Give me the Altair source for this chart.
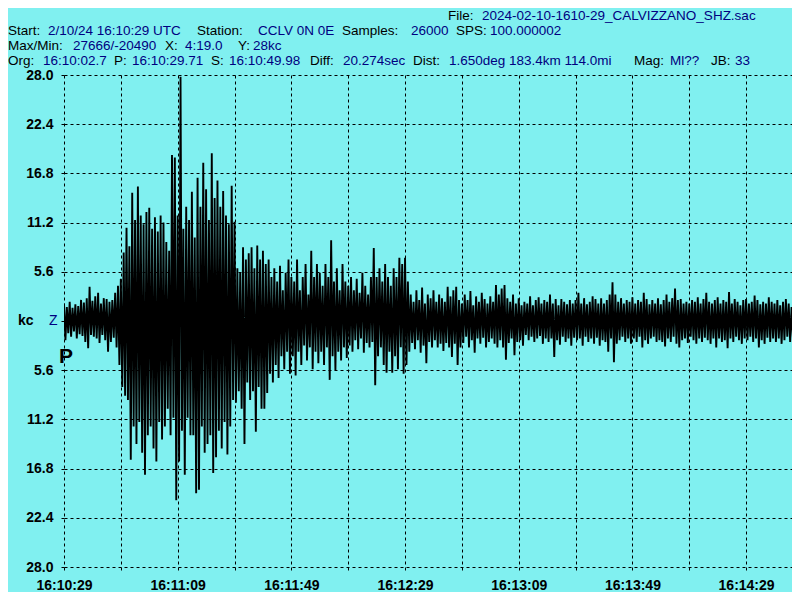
import altair as alt
import pandas as pd

# ---------------- data ----------------
# one peak and one trough per second, starting at 16:10:29 (t = 0 s)
peaks = [
    2.0, 1.6, 2.2, 1.5, 1.9, 1.7, 2.4, 2.1, 2.6, 3.9,
    2.3, 2.8, 3.2, 2.0, 2.6, 2.5, 2.2, 2.4, 3.2, 4.0,
    4.8, 7.8, 10.6, 8.5, 14.6, 11.5, 15.3, 12.0, 11.0, 12.4,
    12.9, 10.5, 11.8, 10.2, 12.0, 11.2, 9.0, 8.0, 18.9, 18.6,
    12.0, 27.8, 10.5, 13.0, 11.5, 14.7, 9.5, 16.3, 13.0, 18.0,
    15.0, 11.5, 19.1, 14.0, 16.0, 13.0, 14.8, 12.0, 11.0, 15.4,
    11.3, 6.0, 5.5, 8.4, 7.0, 7.7, 8.4, 6.0, 8.6, 7.0,
    8.0, 6.5, 7.0, 5.0, 6.0, 4.5, 6.3, 3.5, 5.5, 7.0,
    5.0, 4.5, 7.0, 3.5, 5.0, 6.5, 3.0, 8.0, 5.0, 6.5,
    5.5, 4.0, 6.5, 5.0, 9.2, 4.5, 6.0, 3.5, 6.5, 4.5,
    4.0, 5.0, 3.5, 4.8, 3.2, 5.5, 4.0, 3.0, 5.0, 8.3,
    5.0, 6.0, 4.5, 6.5, 5.0, 4.0, 6.0, 5.0, 7.2, 6.5,
    7.2, 4.5, 3.0, 2.2, 3.5, 2.4, 3.8, 2.0, 3.0, 2.6,
    3.5, 2.2, 3.0, 2.6, 2.2, 3.9, 2.8, 3.5, 3.9, 2.4,
    2.0, 3.0, 2.4, 3.4, 1.8, 2.8, 2.2, 3.2, 2.5, 2.0,
    2.8, 2.2, 4.1, 3.0, 3.7, 4.1, 2.6, 2.2, 3.0, 2.0,
    2.6, 1.8, 2.2, 2.0, 2.8, 1.8, 2.4, 2.7, 2.0, 2.4,
    2.2, 3.0, 2.0, 2.5, 1.8, 2.5, 2.2, 1.9, 2.4, 2.0,
    2.4, 3.2, 2.0, 2.6, 1.9, 2.2, 2.8, 2.5, 2.0, 2.6,
    2.0, 2.4, 3.0, 4.4, 3.0, 2.2, 2.6, 2.0, 2.4, 2.2,
    2.7, 2.0, 2.4, 2.2, 3.2, 2.5, 1.9, 2.4, 2.0, 2.6,
    1.9, 2.4, 3.0, 2.2, 2.6, 3.7, 2.4, 2.5, 2.0, 2.2,
    2.0, 2.4, 2.2, 2.7, 2.0, 2.5, 3.2, 2.2, 2.0, 2.4,
    2.7, 2.0, 2.4, 2.2, 3.3, 2.0, 2.5, 2.2, 1.8, 2.4,
    2.5, 2.0, 2.2, 2.9, 2.4, 1.9, 2.2, 2.0, 2.7, 2.2,
    2.0, 2.4, 1.8, 2.2, 2.5, 2.0, 1.6, 2.2, 1.4,
]
troughs = [
    -2.2, -1.4, -1.8, -1.2, -2.0, -1.5, -1.7, -2.4, -3.1, -1.6,
    -1.8, -2.0, -2.5, -1.6, -2.2, -3.5, -2.4, -1.9, -3.0, -5.0,
    -7.5, -8.5, -9.0, -15.8, -12.0, -14.0, -11.5, -15.0, -17.5, -13.0,
    -12.0, -14.5, -16.0, -11.5, -13.5, -12.0, -10.0, -13.0, -11.0, -20.4,
    -16.0, -12.5, -17.5, -11.0, -13.0, -13.0, -19.6, -19.2, -12.0, -15.0,
    -14.0, -13.0, -17.3, -15.5, -12.5, -14.5, -11.5, -15.2, -12.0, -9.0,
    -9.3, -8.0, -10.0, -14.0, -7.0, -9.0, -8.0, -12.6, -7.5, -10.0,
    -10.0, -8.2, -6.0, -7.0, -5.0, -6.5, -4.0, -5.5, -3.5, -6.0,
    -4.0, -6.2, -3.5, -5.0, -2.8, -4.5, -3.0, -5.5, -3.5, -4.8,
    -3.5, -5.0, -3.0, -6.7, -4.0, -5.6, -3.5, -4.5, -3.0, -4.2,
    -2.8, -3.5, -2.2, -3.2, -2.0, -3.6, -2.5, -3.0, -2.4, -7.3,
    -4.0, -3.0, -5.0, -5.9, -3.5, -5.9, -4.0, -5.5, -3.0, -6.0,
    -5.0, -3.5, -2.5, -3.2, -2.2, -3.6, -2.8, -4.8, -2.4, -3.0,
    -2.2, -3.0, -2.6, -3.4, -2.5, -3.0, -4.1, -2.6, -5.0, -3.0,
    -2.5, -1.8, -3.0, -2.2, -3.6, -2.0, -2.6, -1.9, -3.0, -2.4,
    -2.0, -2.6, -3.0, -2.2, -3.0, -4.4, -2.5, -2.0, -3.9, -2.4,
    -2.2, -2.8, -1.6, -2.2, -1.8, -2.4, -2.0, -1.7, -2.6, -2.0,
    -2.4, -2.0, -4.1, -2.2, -2.7, -1.8, -2.4, -2.0, -2.8, -1.9,
    -2.2, -2.0, -2.8, -1.8, -2.4, -2.0, -2.6, -1.9, -2.8, -2.2,
    -2.4, -3.5, -2.0, -4.7, -2.6, -2.2, -1.8, -2.4, -2.0, -2.6,
    -2.0, -2.4, -1.8, -3.0, -2.2, -2.6, -2.0, -1.8, -2.4, -2.2,
    -2.4, -2.9, -2.0, -2.4, -1.8, -2.6, -3.0, -2.2, -2.0, -2.5,
    -1.8, -2.2, -2.6, -2.0, -2.4, -1.9, -2.2, -2.6, -2.0, -3.0,
    -2.0, -2.4, -2.2, -3.1, -2.0, -2.4, -1.8, -2.2, -2.6, -2.0,
    -2.2, -1.8, -2.4, -2.0, -3.0, -2.2, -2.6, -1.9, -2.4, -2.0,
    -2.4, -2.0, -2.6, -2.2, -1.8, -2.4, -2.0, -1.8, -1.6,
]
p_arrival = 0.71                # P: 16:10:29.71
x_grid_seconds = list(range(0, 241, 20))
x_tick_seconds = [0, 40, 80, 120, 160, 200, 240]
x_tick_labels = ["16:10:29", "16:11:09", "16:11:49", "16:12:29",
                 "16:13:09", "16:13:49", "16:14:29"]
y_levels = [5.6, 11.2, 16.8, 22.4, 28.0]

# header text: (line, text, is_value)
header_segments = [
    (0, "File:", False), (0, "2024-02-10-1610-29_CALVIZZANO_SHZ.sac", True),
    (1, "Start:", False), (1, "2/10/24 16:10:29 UTC", True),
    (1, "Station:", False), (1, "CCLV 0N 0E", True),
    (1, "Samples:", False), (1, "26000", True),
    (1, "SPS:", False), (1, "100.000002", True),
    (2, "Max/Min:", False), (2, "27666/-20490", True),
    (2, "X:", False), (2, "4:19.0", True), (2, "Y:", False), (2, "28kc", True),
    (3, "Org:", False), (3, "16:10:02.7", True), (3, "P:", False), (3, "16:10:29.71", True),
    (3, "S:", False), (3, "16:10:49.98", True), (3, "Diff:", False), (3, "20.274sec", True),
    (3, "Dist:", False), (3, "1.650deg 183.4km 114.0mi", True),
    (3, "Mag:", False), (3, "Ml??", True), (3, "JB:", False), (3, "33", True),
]

# ---------------- layout / style ----------------
BG = "#80F0F0"
NAVY = "#000080"
FONT = "Liberation Sans"
PLOT_LEFT, PLOT_TOP = 64, 75            # page coords of the plot area
PLOT_W, PLOT_H = 728, 492
PX_PER_SECOND = 2.842
SHIFT = 8                               # page margin: left-aligned lines start at x = 8
header_x_ref = [448, 482,
                0, 40, 189, 250, 334, 403, 448, 482,
                0, 65, 157, 177, 230, 245,
                0, 35, 106, 124, 203, 221, 302, 335, 405, 441, 626, 662, 703, 727]
header_line_y_page = [16, 31, 46, 61]

rows = []
for i, (p, q) in enumerate(zip(peaks, troughs)):
    rows.append({"t": i, "v": p})
    rows.append({"t": i + 0.5, "v": q})
df = pd.DataFrame(rows)

label_expr = "''"
for s, lab in reversed(list(zip(x_tick_seconds, x_tick_labels))):
    label_expr = f"datum.value == {s} ? '{lab}' : ({label_expr})"

y_values = [-v for v in reversed(y_levels)] + [0] + y_levels

axis_common = dict(
    title=None, grid=True, gridColor="black", gridDash=[3, 3], gridWidth=1, gridOpacity=1,
    domain=False, ticks=True, tickColor="black", tickDash=[3, 3], tickWidth=1, tickSize=6,
    labelColor="black", labelFont=FONT, labelFontSize=14, labelFontWeight="bold",
    labelPadding=5, labelOverlap=False, labelFlush=False, labelBound=False,
)

trace = alt.Chart(df).mark_line(
    color="black", strokeWidth=1.9, strokeJoin="bevel", clip=True
).encode(
    x=alt.X("t:Q", scale=alt.Scale(domain=[0, PLOT_W / PX_PER_SECOND], nice=False, zero=False),
            axis=alt.Axis(values=x_grid_seconds, labelExpr=label_expr, **axis_common)),
    y=alt.Y("v:Q", scale=alt.Scale(domain=[-28, 28], nice=False, zero=False),
            axis=alt.Axis(values=y_values,
                          labelExpr="datum.value == 0 ? '' : format(abs(datum.value), '.1f')",
                          **axis_common)),
)

one = alt.Data(values=[{"k": 0}])
layers = [trace]
for (line, text, is_value), xr in zip(header_segments, header_x_ref):
    xp = xr if line == 0 else xr + SHIFT
    layers.append(
        alt.Chart(one).mark_text(
            align="left", baseline="middle", font=FONT, fontSize=13.5,
            color=NAVY if is_value else "black",
        ).encode(
            x=alt.value(xp - PLOT_LEFT),
            y=alt.value(header_line_y_page[line] - PLOT_TOP),
            text=alt.value(text),
        )
    )

zero_y = 321 - PLOT_TOP
layers.append(alt.Chart(one).mark_text(align="left", baseline="middle", font=FONT, fontSize=14,
                                       fontWeight="bold", color="black").encode(
    x=alt.value(18 - PLOT_LEFT), y=alt.value(zero_y), text=alt.value("kc")))
layers.append(alt.Chart(one).mark_text(align="left", baseline="middle", font=FONT, fontSize=14,
                                       color=NAVY).encode(
    x=alt.value(49 - PLOT_LEFT), y=alt.value(zero_y), text=alt.value("Z")))
layers.append(alt.Chart(one).mark_text(align="center", baseline="middle", font=FONT, fontSize=21,
                                       fontWeight="bold", color="black").encode(
    x=alt.datum(p_arrival), y=alt.value(357 - PLOT_TOP), text=alt.value("P")))

chart = alt.layer(*layers).properties(
    width=PLOT_W, height=PLOT_H,
    background=BG,
    autosize=alt.AutoSizeParams(type="none"),
    padding={"left": PLOT_LEFT - 8, "top": PLOT_TOP - 8, "right": 0, "bottom": 25},
).configure_view(stroke=None, fill=BG)

chart.save("out.html", embed_options={"renderer": "svg", "actions": False})
